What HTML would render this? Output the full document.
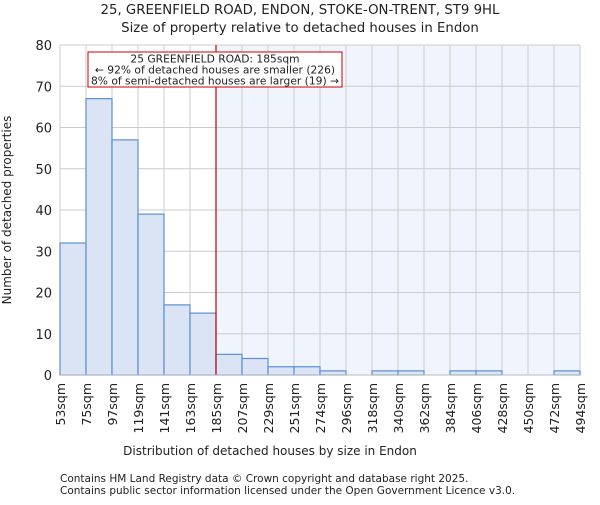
<!DOCTYPE html>
<html><head><meta charset="utf-8"><style>
body{margin:0;background:#fff;font-family:"Liberation Sans","DejaVu Sans",sans-serif}
svg text{font-family:"DejaVu Sans","Liberation Sans",sans-serif;fill:#222}
</style></head><body>
<svg id="c" width="600" height="500">
<text x="300" y="14" text-anchor="middle" font-size="13.3">25, GREENFIELD ROAD, ENDON, STOKE-ON-TRENT, ST9 9HL</text>
<text x="300" y="32" text-anchor="middle" font-size="13.3">Size of property relative to detached houses in Endon</text>
<g id="plot"></g>
<text x="270" y="455" text-anchor="middle" font-size="12">Distribution of detached houses by size in Endon</text>
<text transform="translate(11,210) rotate(-90)" text-anchor="middle" font-size="12">Number of detached properties</text>
<text x="60" y="482" font-size="10.5">Contains HM Land Registry data © Crown copyright and database right 2025.</text>
<text x="60" y="494" font-size="10.5">Contains public sector information licensed under the Open Government Licence v3.0.</text>
</svg>
<script>
const labels=["53sqm","75sqm","97sqm","119sqm","141sqm","163sqm","185sqm","207sqm","229sqm","251sqm","274sqm","296sqm","318sqm","340sqm","362sqm","384sqm","406sqm","428sqm","450sqm","472sqm","494sqm"];
const counts=[32,67,57,39,17,15,5,4,2,2,1,0,1,1,0,1,1,0,0,1];
const yTicks=[0,10,20,30,40,50,60,70,80];
const marker=6;
const X0=60,X1=580,Y0=375,Y1=45,yMax=80;
const bw=(X1-X0)/counts.length;
const xs=i=>X0+i*bw, ys=v=>Y0-(v/yMax)*(Y0-Y1);
const ns="http://www.w3.org/2000/svg", g=document.getElementById('plot');
function mk(t,a){const e=document.createElementNS(ns,t);for(const k in a)e.setAttribute(k,a[k]);g.appendChild(e);return e;}
let r=mk('rect',{x:xs(marker),y:Y1,width:X1-xs(marker),height:Y0-Y1,fill:'#f0f4fc'});


yTicks.forEach(t=>{let l=mk('line',{x1:X0,x2:X1,y1:ys(t),y2:ys(t),stroke:'#cccccc'});


let tx=mk('text',{x:X0-8,y:ys(t)+5,'text-anchor':'end','font-size':13});tx.textContent=t;

});
labels.forEach((s,i)=>{let l=mk('line',{x1:xs(i),x2:xs(i),y1:Y1,y2:Y0,stroke:'#cccccc'});


let tx=mk('text',{transform:`translate(${xs(i)+5},${Y0+8}) rotate(-90)`,'text-anchor':'end','font-size':12.5});tx.textContent=s;

});
counts.forEach((v,i)=>{if(v<=0)return;let b=mk('rect',{x:xs(i),y:ys(v),width:bw,height:Y0-ys(v),fill:'#dae4f4',stroke:'#5b8fd4','stroke-width':1.2});

});
let m=mk('line',{x1:xs(marker),x2:xs(marker),y1:Y1,y2:Y0,stroke:'#cc0000','stroke-width':1.2});


let ax=mk('line',{x1:X0,x2:X1,y1:Y0,y2:Y0,stroke:'#bbb'});


let box=mk('rect',{x:88,y:52,width:254,height:35,fill:'#fff',stroke:'#cc0000'});


["25 GREENFIELD ROAD: 185sqm","← 92% of detached houses are smaller (226)","8% of semi-detached houses are larger (19) →"].forEach((s,i)=>{let t=mk('text',{x:215,y:62.5+i*11,'text-anchor':'middle','font-size':10.7});t.textContent=s;

});
</script>
</body></html>
